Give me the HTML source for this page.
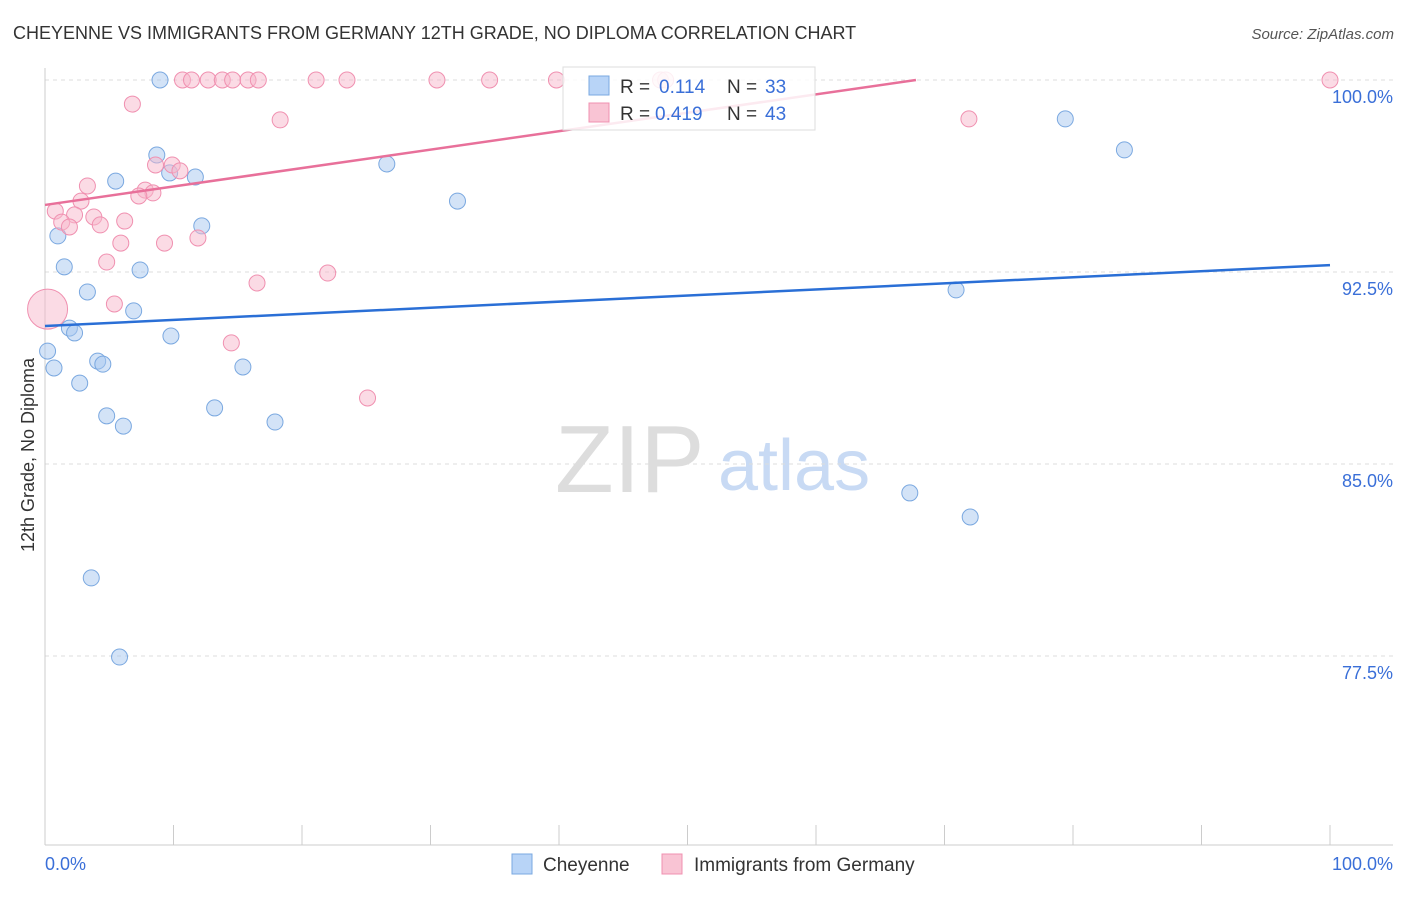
<!DOCTYPE html>
<html><head><meta charset="utf-8">
<style>
body{margin:0;background:#fff;font-family:"Liberation Sans",sans-serif;}
svg text{font-family:"Liberation Sans",sans-serif;}
</style></head>
<body>
<svg id="chart" width="1406" height="892" xmlns="http://www.w3.org/2000/svg">
<text x="13" y="39" font-size="18" fill="#333">CHEYENNE VS IMMIGRANTS FROM GERMANY 12TH GRADE, NO DIPLOMA CORRELATION CHART</text>
<text x="1394" y="39" font-size="15" fill="#555" font-style="italic" text-anchor="end">Source: ZipAtlas.com</text>
<g>
<text x="555" y="492" font-size="96" fill="#ddd" font-family="Liberation Serif, serif">ZIP</text>
<text x="718" y="490" font-size="72" fill="#c8daf4">atlas</text>
</g>
<g id="grid"></g>
<g id="axes"></g>
<g id="marks"></g>
<text transform="translate(34,455) rotate(-90)" font-size="18" fill="#333" text-anchor="middle">12th Grade, No Diploma</text>
<g>
<rect x="563" y="67" width="252" height="63" fill="#fff" fill-opacity="0.85" stroke="#ddd"/>
<rect x="589" y="76" width="20" height="19" fill="#b8d4f7" stroke="#7aa8e0"/>
<text x="620" y="93" font-size="19" fill="#333">R = </text><text x="659" y="93" font-size="19" fill="#3a6fd8">0.114</text>
<text x="727" y="93" font-size="19" fill="#333">N = </text><text x="765" y="93" font-size="19" fill="#3a6fd8">33</text>
<rect x="589" y="103" width="20" height="19" fill="#f9c4d4" stroke="#f090b0"/>
<text x="620" y="120" font-size="19" fill="#333">R = </text><text x="655" y="120" font-size="19" fill="#3a6fd8">0.419</text>
<text x="727" y="120" font-size="19" fill="#333">N = </text><text x="765" y="120" font-size="19" fill="#3a6fd8">43</text>
</g>
<g>
<rect x="512" y="854" width="20" height="20" fill="#b8d4f7" stroke="#7aa8e0"/>
<text x="543" y="871" font-size="19" fill="#333">Cheyenne</text>
<rect x="662" y="854" width="20" height="20" fill="#f9c4d4" stroke="#f090b0"/>
<text x="694" y="871" font-size="19" fill="#333">Immigrants from Germany</text>
</g>
</svg>
<script>
const yTicks=[100,92.5,85,77.5];
const yTickLabels=["100.0%","92.5%","85.0%","77.5%"];
const xTicks=[0,10,20,30,40,50,60,70,80,90,100];
const blueX=[8.95,8.7,5.5,9.7,11.7,1.0,12.2,1.5,7.4,3.3,6.9,1.9,2.3,9.8,0.2,0.7,4.1,4.5,15.4,2.7,13.2,4.8,6.1,17.9,26.6,32.1,79.4,84.0,70.9,67.3,72.0,3.6,5.8];
const blueY=[100,97.07,96.05,96.37,96.21,93.91,94.3,92.7,92.58,91.72,90.98,90.31,90.12,90.0,89.41,88.75,89.02,88.9,88.79,88.16,87.19,86.88,86.48,86.64,96.72,95.27,98.48,97.27,91.8,83.87,82.93,80.55,77.46];
const pinkX=[10.7,11.4,12.7,13.8,14.6,15.8,16.6,21.1,23.5,30.5,34.6,39.8,47.9,100,6.8,18.3,71.9,8.6,9.9,10.5,3.3,7.8,8.4,7.3,2.8,0.8,2.3,3.8,1.3,1.9,4.3,6.2,5.9,9.3,11.9,4.8,22.0,16.5,5.4,0.2,14.5,25.1,48.3];
const pinkY=[100,100,100,100,100,100,100,100,100,100,100,100,100,100,99.06,98.44,98.48,96.68,96.68,96.45,95.86,95.7,95.59,95.47,95.27,94.88,94.73,94.65,94.45,94.26,94.34,94.49,93.63,93.63,93.83,92.89,92.46,92.07,91.25,91.05,89.73,87.58,100];
const pinkR=pinkX.map((_,i)=>i===39?20:8);
const blueTrend=[90.39,92.77];
const pinkTrend=[95.12,0.072];
const NS="http://www.w3.org/2000/svg";
const sx=v=>45+v*12.85, sy=v=>80+(100-v)*25.6;
function mk(tag,attrs,parent){const e=document.createElementNS(NS,tag);for(const k in attrs)e.setAttribute(k,attrs[k]);document.getElementById(parent).appendChild(e);return e;}
yTicks.forEach((t,i)=>{
 const l=mk('line',{x1:45,x2:1393,y1:sy(t),y2:sy(t),stroke:'#ddd','stroke-dasharray':'4,4'},'grid');
 
 
 const tx=mk('text',{x:1393,y:sy(t)+23,'font-size':18,fill:'#3a6fd8','text-anchor':'end'},'grid');
 tx.textContent=yTickLabels[i];
 
 
});
const ax=mk('line',{x1:45,x2:45,y1:68,y2:845,stroke:'#ccc'},'axes');


const bx=mk('line',{x1:45,x2:1393,y1:845,y2:845,stroke:'#ccc'},'axes');


xTicks.forEach(t=>{const l=mk('line',{x1:sx(t),x2:sx(t),y1:825,y2:845,stroke:'#ccc'},'axes');
 
 });
const x0=mk('text',{x:45,y:870,'font-size':18,fill:'#3a6fd8'},'axes');x0.textContent='0.0%';


const x1=mk('text',{x:1393,y:870,'font-size':18,fill:'#3a6fd8','text-anchor':'end'},'axes');x1.textContent='100.0%';


blueX.forEach((x,i)=>{const c=mk('circle',{cx:sx(x),cy:sy(blueY[i]),r:8,fill:'#a8c8f0','fill-opacity':0.5,stroke:'#7aa8e0','stroke-width':1},'marks');
 
 });
pinkX.forEach((x,i)=>{const c=mk('circle',{cx:sx(x),cy:sy(pinkY[i]),r:pinkR[i],fill:'#f7b8cc','fill-opacity':0.5,stroke:'#f090b0','stroke-width':1},'marks');
 
 });
const bl=mk('line',{x1:sx(0),y1:sy(blueTrend[0]),x2:sx(100),y2:sy(blueTrend[1]),stroke:'#2a6fd6','stroke-width':2.5},'marks');


const xEnd=Math.min(100,(100-pinkTrend[0])/pinkTrend[1]);
const pl=mk('line',{x1:sx(0),y1:sy(pinkTrend[0]),x2:sx(xEnd),y2:sy(pinkTrend[0]+pinkTrend[1]*xEnd),stroke:'#e8709a','stroke-width':2.5},'marks');


</script>
</body></html>
